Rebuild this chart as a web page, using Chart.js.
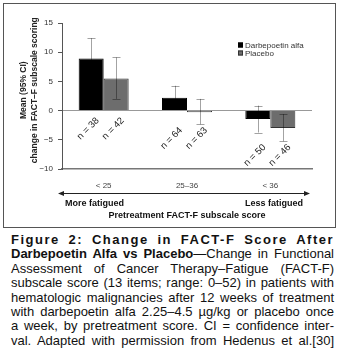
<!DOCTYPE html>
<html>
<head>
<meta charset="utf-8">
<script src="https://cdn.jsdelivr.net/npm/chart.js@4/dist/chart.umd.min.js"></script>
<style>
  html, body { margin: 0; padding: 0; background: #fff; }
  body { width: 340px; height: 359px; position: relative; overflow: hidden; }
  #wrap { position: absolute; left: 0; top: 0; width: 340px; height: 232px; }
  #cap {
    position: absolute; left: 11px; top: 233px; width: 323px;
    font: 13px "Liberation Sans", Arial, Helvetica, sans-serif;
    line-height: 14.4px; color: #111;
  }
  #cap .l { text-align: justify; text-align-last: justify; }
  #cap .t { font-weight: bold; letter-spacing: 1.5px; }
</style>
</head>
<body>
<div id="wrap"><canvas id="c" width="340" height="232"></canvas></div>
<div id="cap">
  <div class="l t">Figure 2: Change in FACT-F Score After</div>
  <div class="l"><b>Darbepoetin Alfa vs Placebo</b>—Change in Functional</div>
  <div class="l">Assessment of Cancer Therapy–Fatigue (FACT-F)</div>
  <div class="l">subscale score (13 items; range: 0–52) in patients with</div>
  <div class="l">hematologic malignancies after 12 weeks of treatment</div>
  <div class="l">with darbepoetin alfa 2.25–4.5 µg/kg or placebo once</div>
  <div class="l">a week, by pretreatment score. CI = confidence inter-</div>
  <div class="l">val. Adapted with permission from Hedenus et al.[30]</div>
</div>
<script>
// Pretreatment FACT-F score groups
const categories = ['< 25', '25–36', '< 36'];

// Mean change and 95% CI, darbepoetin alfa
const darbeMean = [8.9, 2.2, -1.45];
const darbeLow  = [5.5, 0.2, -3.75];
const darbeHigh = [12.4, 4.25, 0.85];
const darbeN    = ['n = 38', 'n = 64', 'n = 50'];

// Mean change and 95% CI, placebo
const placeboMean = [5.5, -0.3, -3.0];
const placeboLow  = [2.0, -2.35, -5.25];
const placeboHigh = [9.1, 2.0, -0.6];
const placeboN    = ['n = 42', 'n = 63', 'n = 46'];

const yTicks = { min: -10, max: 15, step: 5 };
const yTitle = ['Mean (95% CI)', 'change in FACT–F subscale scoring'];

const FONT = '"Liberation Sans", Arial, Helvetica, sans-serif';

const ciLow = [darbeLow, placeboLow];
const ciHigh = [darbeHigh, placeboHigh];
const nLabels = [darbeN, placeboN];

// Whiskers drawn translucent so they vanish over the black bars
const errorBars = {
  id: 'errorBars',
  afterDatasetsDraw(chart) {
    const ctx = chart.ctx, y = chart.scales.y;
    ctx.save();
    ctx.strokeStyle = 'rgba(0,0,0,0.36)';
    ctx.lineWidth = 1;
    chart.data.datasets.forEach((ds, di) => {
      chart.getDatasetMeta(di).data.forEach((bar, i) => {
        const x = Math.round(bar.x) + 0.5;
        const yl = y.getPixelForValue(ciLow[di][i]);
        const yh = y.getPixelForValue(ciHigh[di][i]);
        ctx.beginPath();
        ctx.moveTo(x, yl); ctx.lineTo(x, yh);
        ctx.moveTo(x - 4, Math.round(yl) + 0.5); ctx.lineTo(x + 4, Math.round(yl) + 0.5);
        ctx.moveTo(x - 4, Math.round(yh) + 0.5); ctx.lineTo(x + 4, Math.round(yh) + 0.5);
        ctx.stroke();
      });
    });
    ctx.restore();
  }
};

// Rotated sample-size labels under each group
const sampleSizes = {
  id: 'sampleSizes',
  afterDatasetsDraw(chart) {
    const ctx = chart.ctx, y = chart.scales.y;
    const zero = y.getPixelForValue(0);
    ctx.save();
    ctx.font = '9.5px ' + FONT;
    ctx.fillStyle = '#222';
    ctx.textAlign = 'center';
    ctx.textBaseline = 'middle';
    categories.forEach((c, i) => {
      const lowest = Math.min(darbeLow[i], placeboLow[i]);
      const cy = Math.max(zero + 18, y.getPixelForValue(lowest) + 14);
      chart.data.datasets.forEach((ds, di) => {
        const bar = chart.getDatasetMeta(di).data[i];
        ctx.save();
        ctx.translate(bar.x - 3, cy);
        ctx.rotate(-Math.PI / 4);
        ctx.fillText(nLabels[di][i], 0, 0);
        ctx.restore();
      });
    });
    ctx.restore();
  }
};

// Frame, axis title, legend and the fatigue arrow
const decorations = {
  id: 'decorations',
  afterDraw(chart) {
    const ctx = chart.ctx, a = chart.chartArea;
    ctx.save();
    // outer frame
    ctx.strokeStyle = '#555';
    ctx.lineWidth = 1;
    ctx.strokeRect(3.5, 3.5, 332, 224);

    // y-axis title
    ctx.fillStyle = '#222';
    ctx.font = 'bold 8.5px ' + FONT;
    ctx.textAlign = 'center';
    ctx.textBaseline = 'middle';
    const ty = a.top + (a.bottom - a.top) * 0.46;
    [24, 35].forEach((tx, k) => {
      ctx.save();
      ctx.translate(tx, ty);
      ctx.rotate(-Math.PI / 2);
      ctx.fillText(yTitle[k], 0, 0);
      ctx.restore();
    });

    // legend
    ctx.font = '8px ' + FONT;
    ctx.textAlign = 'left';
    chart.data.datasets.forEach((ds, di) => {
      const ly = 45 + di * 8;
      ctx.fillStyle = ds.backgroundColor;
      ctx.fillRect(238, ly - 2.5, 5, 5);
      ctx.strokeStyle = ds.borderColor;
      ctx.strokeRect(238.5, ly - 2, 4, 4);
      ctx.fillStyle = '#333';
      ctx.fillText(ds.label, 245, ly + 0.5);
    });

    // double-headed arrow under the axis
    const ay = 193.5, x0 = a.left - 4, x1 = a.right - 2;
    ctx.strokeStyle = '#222';
    ctx.fillStyle = '#222';
    ctx.beginPath();
    ctx.moveTo(x0 + 3, ay); ctx.lineTo(x1 - 3, ay);
    ctx.stroke();
    ctx.beginPath();
    ctx.moveTo(x0, ay); ctx.lineTo(x0 + 6, ay - 2.5); ctx.lineTo(x0 + 6, ay + 2.5); ctx.closePath();
    ctx.moveTo(x1, ay); ctx.lineTo(x1 - 6, ay - 2.5); ctx.lineTo(x1 - 6, ay + 2.5); ctx.closePath();
    ctx.fill();

    ctx.font = 'bold 9px ' + FONT;
    ctx.fillStyle = '#111';
    ctx.textAlign = 'left';
    ctx.fillText('More fatigued', a.left + 3, 203.5);
    ctx.textAlign = 'right';
    ctx.fillText('Less fatigued', a.right - 9, 203.5);
    ctx.textAlign = 'center';
    ctx.fillText('Pretreatment FACT-F subscale score', (a.left + a.right) / 2, 215.5);
    ctx.restore();
  }
};

new Chart(document.getElementById('c'), {
  type: 'bar',
  data: {
    labels: categories,
    datasets: [
      { label: 'Darbepoetin alfa', data: darbeMean, backgroundColor: '#000', borderColor: '#000', borderWidth: 1 },
      { label: 'Placebo', data: placeboMean, backgroundColor: '#6d6d6d', borderColor: '#333', borderWidth: 1 }
    ]
  },
  options: {
    responsive: false,
    animation: false,
    devicePixelRatio: 1,
    layout: { padding: { top: 23, right: 28, left: 0, bottom: 0 } },
    datasets: { bar: { categoryPercentage: 0.6, barPercentage: 1.0 } },
    plugins: { legend: { display: false }, tooltip: { enabled: false } },
    scales: {
      x: {
        afterFit(s) { s.height = 63; },
        grid: { display: false },
        border: { display: true, color: '#777', width: 1.5 },
        ticks: { padding: 4, color: '#444', font: { family: FONT, size: 8 } }
      },
      y: {
        min: yTicks.min, max: yTicks.max,
        afterFit(s) { s.width = 62; },
        border: { display: true, color: '#555', width: 1 },
        grid: {
          drawOnChartArea: true,
          color: c => (c.tick && c.tick.value === 0 ? '#999' : 'rgba(0,0,0,0)'),
          tickColor: '#555', tickLength: 4, lineWidth: 1
        },
        ticks: {
          stepSize: yTicks.step, padding: 5, color: '#333',
          font: { family: FONT, size: 8 },
          callback: v => String(v).replace('-', '−')
        }
      }
    }
  },
  plugins: [errorBars, sampleSizes, decorations]
});
</script>
</body>
</html>
